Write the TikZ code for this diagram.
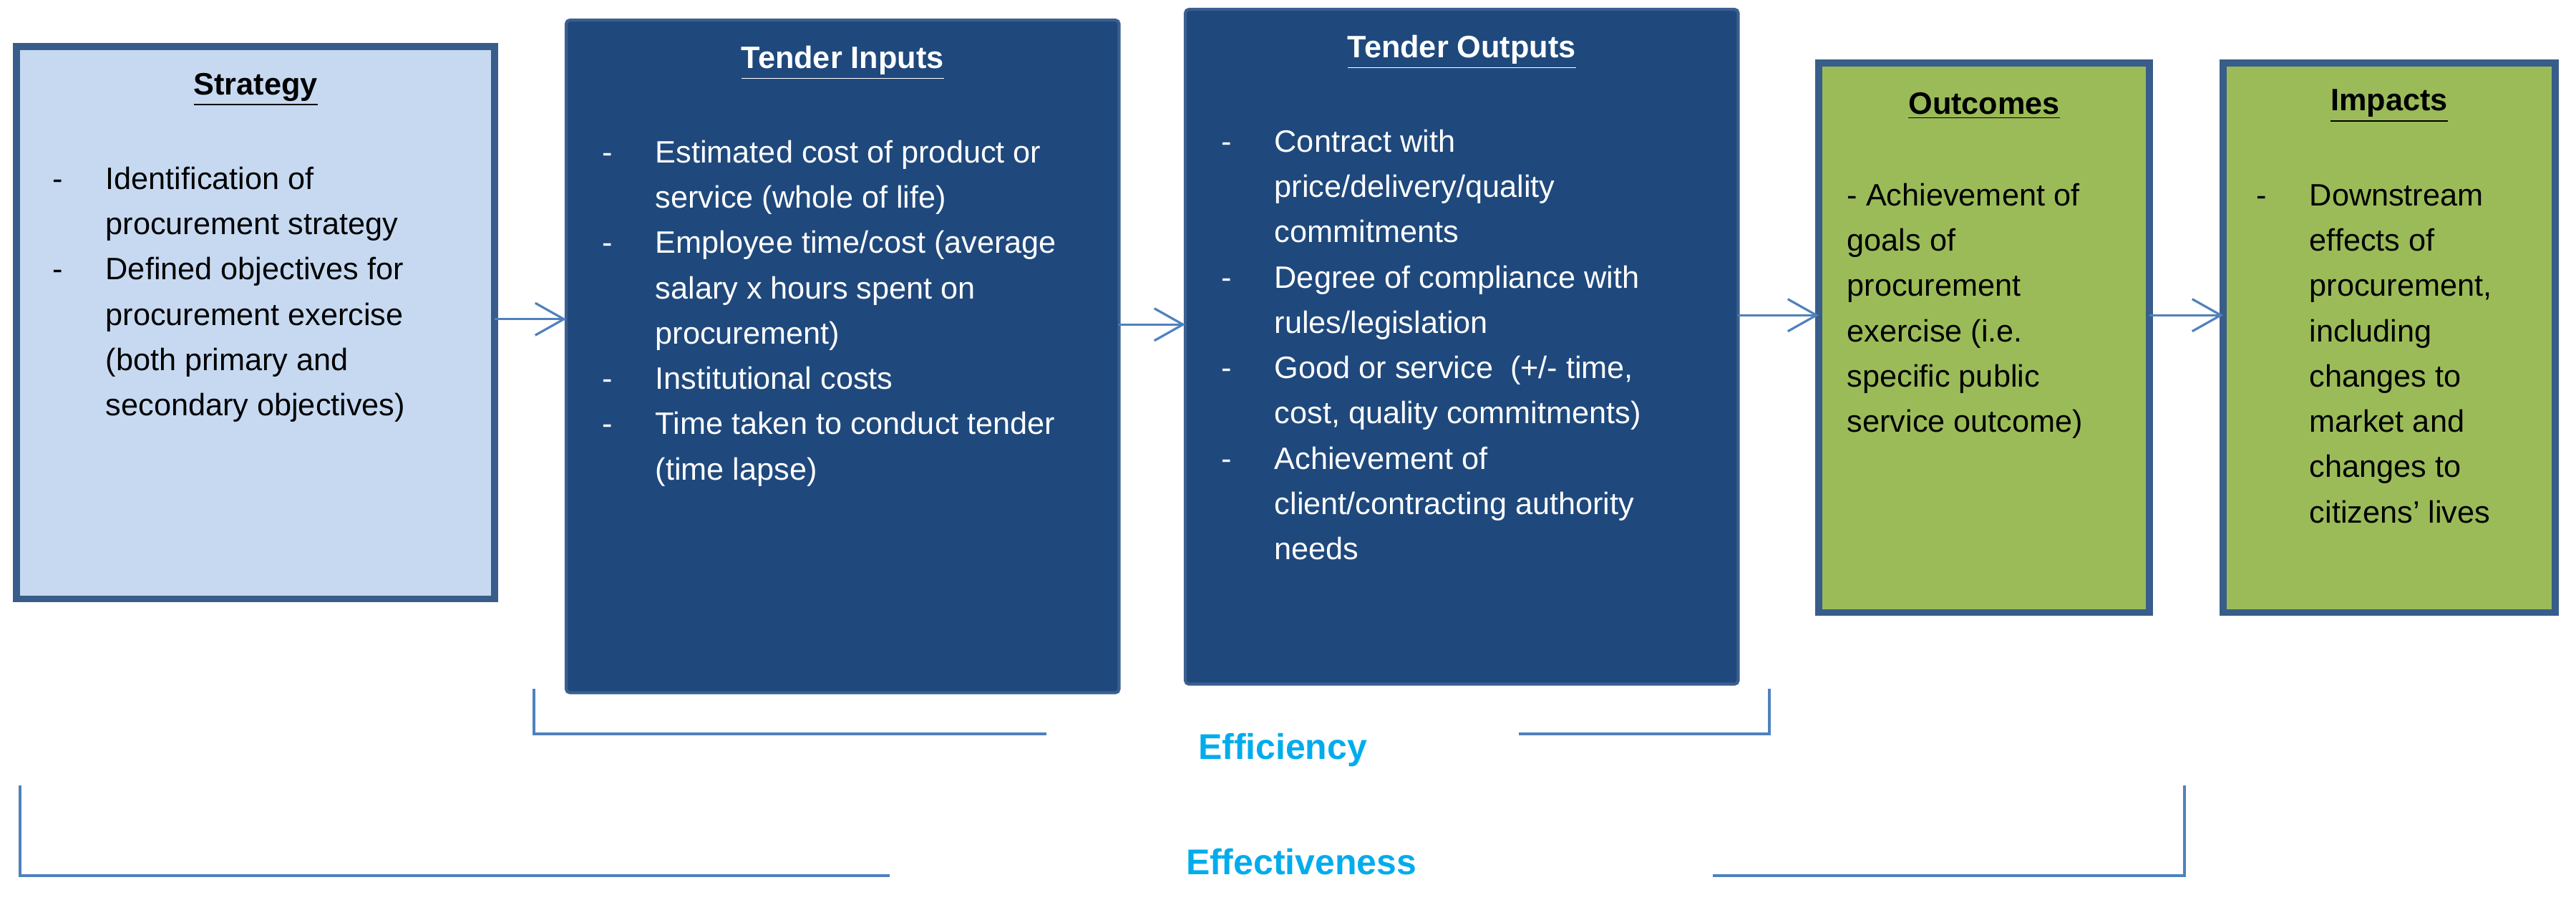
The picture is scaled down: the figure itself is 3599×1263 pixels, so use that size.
\documentclass[tikz,border=0pt]{standalone}
\usepackage{fontspec}
\setmainfont{Liberation Sans}
\usetikzlibrary{arrows.meta}
\definecolor{lightfill}{RGB}{198,217,241}
\definecolor{darkfill}{RGB}{31,73,125}
\definecolor{greenfill}{RGB}{155,187,89}
\definecolor{edge}{RGB}{56,93,138}
\definecolor{darkedge}{RGB}{58,95,143}
\definecolor{linkblue}{RGB}{79,129,189}
\definecolor{measurecol}{RGB}{0,172,236}
\newcommand\itemdash{\makebox[7.4mm][l]{-}}
\newcommand\itemgap{\hspace*{7.4mm}}
\begin{document}
\begin{tikzpicture}[x=0.01cm, y=-0.01cm,
  panel/.style={rectangle, anchor=north west, inner sep=0pt, outer sep=0pt, fill=#1},
  thickedge/.style={draw=edge, line width=2.8pt},
  thinedge/.style={draw=darkedge, line width=1.2pt, rounded corners=1.5pt},
  head/.style={font=\fontsize{12.3}{18}\selectfont\bfseries, inner sep=0pt},
  list/.style={anchor=north west, align=left, inner sep=0pt, font=\fontsize{12.3}{18}\selectfont},
  link/.style={draw=linkblue, line width=0.9pt, -{Straight Barb[length=4mm,width=4.5mm]}},
  brace/.style={draw=linkblue, line width=0.9pt},
  measure/.style={fill=white, text=measurecol, font=\fontsize{14.2}{17}\selectfont\bfseries}]
  \useasboundingbox (0,0) rectangle (3599,1263);
  % boxes
  \node[panel=lightfill, thickedge, minimum width=6.68cm, minimum height=7.71cm] (strat) at (23,65) {};
  \node[panel=darkfill, thinedge, minimum width=7.72cm, minimum height=9.39cm] (inputs) at (791,28) {};
  \node[panel=darkfill, thinedge, minimum width=7.72cm, minimum height=9.42cm] (outputs) at (1656,13) {};
  \node[panel=greenfill, thickedge, minimum width=4.62cm, minimum height=7.67cm] (outcomes) at (2541,88) {};
  \node[panel=greenfill, thickedge, minimum width=4.64cm, minimum height=7.67cm] (impacts) at (3106,88) {};
  % headings
  \node[head] (strathead) at ([yshift=-0.6cm]strat.north) {\underline{Strategy}};
  \node[head, text=white] (inhead) at ([yshift=-0.6cm]inputs.north) {\underline{Tender Inputs}};
  \node[head, text=white] (outhead) at ([yshift=-0.6cm]outputs.north) {\underline{Tender Outputs}};
  \node[head] (outchead) at ([yshift=-0.6cm]outcomes.north) {\underline{Outcomes}};
  \node[head] (imphead) at ([yshift=-0.6cm]impacts.north) {\underline{Impacts}};
  % lists
  \node[list] (stratlist) at ([xshift=0.5cm, yshift=-1.54cm]strat.north west) {\strut\itemdash Identification of\\
    \itemgap procurement strategy\\
    \itemdash Defined objectives for\\
    \itemgap procurement exercise\\
    \itemgap (both primary and\\
    \itemgap secondary objectives)};
  \node[list, text=white] (inlist) at ([xshift=0.5cm, yshift=-1.54cm]inputs.north west) {\strut\itemdash Estimated cost of product or\\
    \itemgap service (whole of life)\\
    \itemdash Employee time/cost (average\\
    \itemgap salary x hours spent on\\
    \itemgap procurement)\\
    \itemdash Institutional costs\\
    \itemdash Time taken to conduct tender\\
    \itemgap (time lapse)};
  \node[list, text=white] (outlist) at ([xshift=0.5cm, yshift=-1.54cm]outputs.north west) {\strut\itemdash Contract with\\
    \itemgap price/delivery/quality\\
    \itemgap commitments\\
    \itemdash Degree of compliance with\\
    \itemgap rules/legislation\\
    \itemdash Good or service\ \ (+/- time,\\
    \itemgap cost, quality commitments)\\
    \itemdash Achievement of\\
    \itemgap client/contracting authority\\
    \itemgap needs};
  \node[list] (outclist) at ([xshift=0.39cm, yshift=-1.54cm]outcomes.north west) {\strut - Achievement of\\
    goals of\\
    procurement\\
    exercise (i.e.\\
    specific public\\
    service outcome)};
  \node[list] (implist) at ([xshift=0.46cm, yshift=-1.54cm]impacts.north west) {\strut\itemdash Downstream\\
    \itemgap effects of\\
    \itemgap procurement,\\
    \itemgap including\\
    \itemgap changes to\\
    \itemgap market and\\
    \itemgap changes to\\
    \itemgap citizens’ lives};
  % arrows
  \draw[link] ([yshift=0.05cm]strat.east) -- ([yshift=0.05cm]strat.east -| inputs.west);
  \draw[link] ([yshift=0.445cm]inputs.east) -- ([yshift=0.445cm]inputs.east -| outputs.west);
  \draw[link] ([yshift=0.44cm]outputs.east) -- ([yshift=0.44cm]outputs.east -| outcomes.west);
  \draw[link] ([yshift=0.315cm]outcomes.east) -- ([yshift=0.315cm]outcomes.east -| impacts.west);
  % brackets
  \draw[brace] (746,962) |- (2472,1025) -- (2472,962);
  \node[measure, minimum width=6.6cm, minimum height=1.2cm] (effic) at (1792,1048) {Efficiency};
  \draw[brace] (28,1097) |- (3052,1223) -- (3052,1097);
  \node[measure, minimum width=11.5cm, minimum height=1.15cm] (effect) at (1818,1204) {Effectiveness};
\end{tikzpicture}
\end{document}
